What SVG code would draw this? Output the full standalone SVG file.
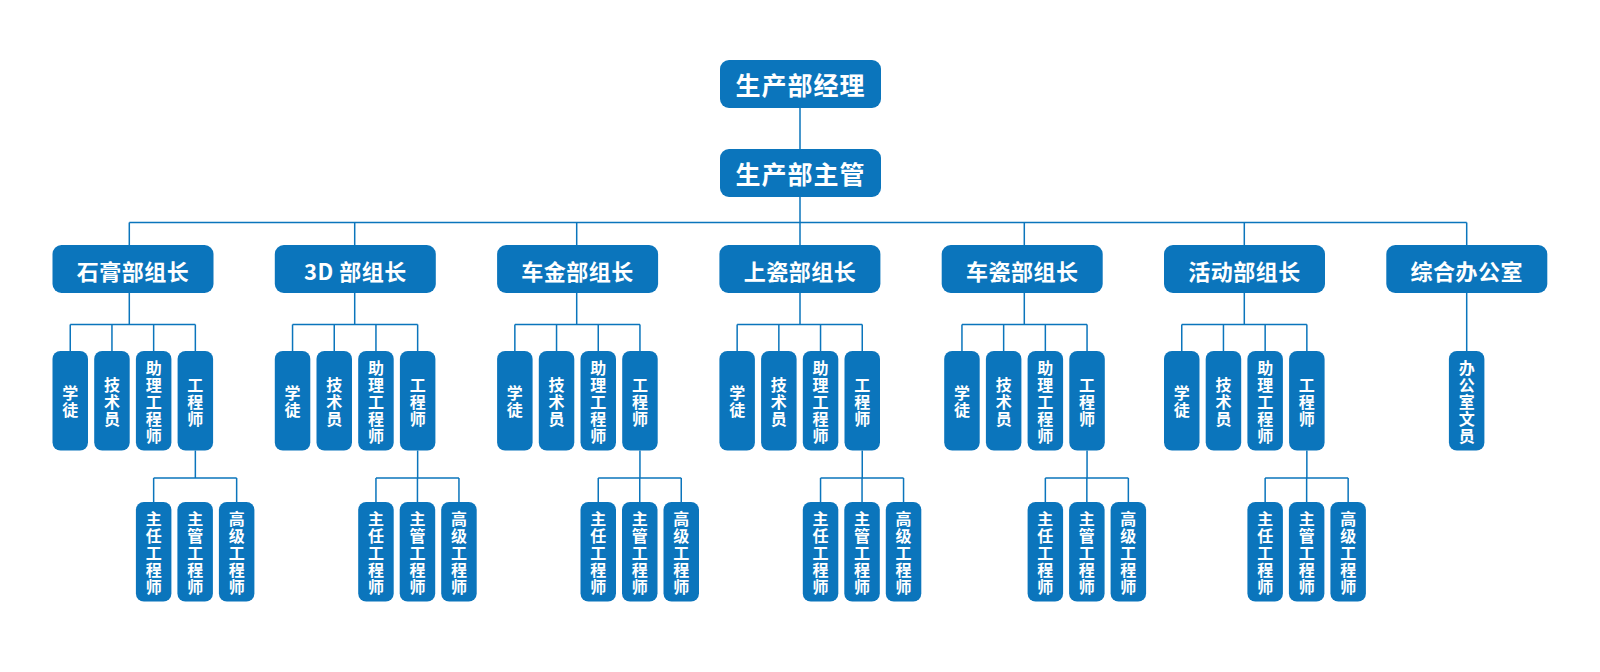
<svg xmlns="http://www.w3.org/2000/svg" width="1600" height="672" viewBox="0 0 1600 672">
<style>
.bx{fill:#0b75bc}
.ln{fill:none;stroke:#0b75bc;stroke-width:1.5}
.t1{font-family:"Noto Sans CJK SC","Liberation Sans",sans-serif;font-weight:bold;font-size:25px;letter-spacing:1px;fill:#fff;text-anchor:middle;dominant-baseline:central}
.t2{font-family:"Noto Sans CJK SC","Liberation Sans",sans-serif;font-weight:bold;font-size:22px;letter-spacing:0.5px;fill:#fff;text-anchor:middle;dominant-baseline:central}
.t3{font-family:"Noto Sans CJK SC","Liberation Sans",sans-serif;font-weight:bold;font-size:16px;fill:#fff;text-anchor:middle;dominant-baseline:central}
</style>
<rect width="1600" height="672" fill="#fff"/>

<g id="connectors">
  <path class="ln" d="M800,108V149M800,197V222.5M129.3,222.5H1466.7"/>
  <path class="ln" d="M129.3,222.5V245M129.3,293V324.5M70.25,324.5H195.35M70.25,324.5V351M111.95,324.5V351M153.65,324.5V351M195.35,324.5V351M195.35,450.5V478M153.65,478H236.65M153.65,478V502M236.65,478V502"/>
  <g transform="translate(274.8,0)"><path class="ln" d="M79.9,222.5V245M79.9,293V324.5M17.75,324.5H142.85M17.75,324.5V351M59.45,324.5V351M101.15,324.5V351M142.85,324.5V351M142.85,450.5V478M101.15,478H184.15M101.15,478V502M142.65,478V502M184.15,478V502"/></g>
  <g transform="translate(497.1,0)"><path class="ln" d="M79.6,222.5V245M79.6,293V324.5M17.75,324.5H142.85M17.75,324.5V351M59.45,324.5V351M101.15,324.5V351M142.85,324.5V351M142.85,450.5V478M101.15,478H184.15M101.15,478V502M142.65,478V502M184.15,478V502"/></g>
  <g transform="translate(719.4,0)"><path class="ln" d="M80.6,222.5V245M80.6,293V324.5M17.75,324.5H142.85M17.75,324.5V351M59.45,324.5V351M101.15,324.5V351M142.85,324.5V351M142.85,450.5V478M101.15,478H184.15M101.15,478V502M142.65,478V502M184.15,478V502"/></g>
  <g transform="translate(941.7,0)"><path class="ln" d="M82.6,222.5V245M82.6,293V324.5M20.25,324.5H145.35M20.25,324.5V351M61.95,324.5V351M103.65,324.5V351M145.35,324.5V351M145.35,450.5V478M103.65,478H186.65M103.65,478V502M145.15,478V502M186.65,478V502"/></g>
  <g transform="translate(1164,0)"><path class="ln" d="M80.3,222.5V245M80.3,293V324.5M17.75,324.5H142.85M17.75,324.5V351M59.45,324.5V351M101.15,324.5V351M142.85,324.5V351M142.85,450.5V478M101.15,478H184.15M101.15,478V502M142.65,478V502M184.15,478V502"/></g>
  <path class="ln" d="M1466.7,222.5V245M1466.7,293V351"/>
</g>

<g id="n-manager"><rect class="bx" x="720" y="60" width="161" height="48" rx="9"/><text class="t1" x="800.5" y="84">生产部经理</text></g>
<g id="n-supervisor"><rect class="bx" x="720" y="149" width="161" height="48" rx="9"/><text class="t1" x="800.5" y="173">生产部主管</text></g>

<!-- Group 0 -->
<g transform="translate(52.5,0)">
  <g id="g0-lead"><rect class="bx" x="0" y="245" width="161" height="48" rx="9"/><text class="t2" x="80.5" y="269.5">石膏部组长</text></g>
  <g id="g0-s1"><rect class="bx" x="0" y="351" width="35.5" height="99.5" rx="8"/><text class="t3"><tspan x="17.75" y="392.25">学</tspan><tspan x="17.75" y="409.25">徒</tspan></text></g>
  <g id="g0-s2"><rect class="bx" x="41.7" y="351" width="35.5" height="99.5" rx="8"/><text class="t3"><tspan x="59.45" y="383.75">技</tspan><tspan x="59.45" y="400.75">术</tspan><tspan x="59.45" y="417.75">员</tspan></text></g>
  <g id="g0-s3"><rect class="bx" x="83.4" y="351" width="35.5" height="99.5" rx="8"/><text class="t3"><tspan x="101.15" y="366.75">助</tspan><tspan x="101.15" y="383.75">理</tspan><tspan x="101.15" y="400.75">工</tspan><tspan x="101.15" y="417.75">程</tspan><tspan x="101.15" y="434.75">师</tspan></text></g>
  <g id="g0-s4"><rect class="bx" x="125.1" y="351" width="35.5" height="99.5" rx="8"/><text class="t3"><tspan x="142.85" y="383.75">工</tspan><tspan x="142.85" y="400.75">程</tspan><tspan x="142.85" y="417.75">师</tspan></text></g>
  <g id="g0-l1"><rect class="bx" x="83.4" y="502" width="35.5" height="99.5" rx="8"/><text class="t3"><tspan x="101.15" y="517.75">主</tspan><tspan x="101.15" y="534.75">任</tspan><tspan x="101.15" y="551.75">工</tspan><tspan x="101.15" y="568.75">程</tspan><tspan x="101.15" y="585.75">师</tspan></text></g>
  <g id="g0-l2"><rect class="bx" x="124.9" y="502" width="35.5" height="99.5" rx="8"/><text class="t3"><tspan x="142.65" y="517.75">主</tspan><tspan x="142.65" y="534.75">管</tspan><tspan x="142.65" y="551.75">工</tspan><tspan x="142.65" y="568.75">程</tspan><tspan x="142.65" y="585.75">师</tspan></text></g>
  <g id="g0-l3"><rect class="bx" x="166.4" y="502" width="35.5" height="99.5" rx="8"/><text class="t3"><tspan x="184.15" y="517.75">高</tspan><tspan x="184.15" y="534.75">级</tspan><tspan x="184.15" y="551.75">工</tspan><tspan x="184.15" y="568.75">程</tspan><tspan x="184.15" y="585.75">师</tspan></text></g>
</g>

<!-- Group 1 -->
<g transform="translate(274.8,0)">
  <g id="g1-lead"><rect class="bx" x="0" y="245" width="161" height="48" rx="9"/><text class="t2" x="80.5" y="269.5">3D 部组长</text></g>
  <g id="g1-s1"><rect class="bx" x="0" y="351" width="35.5" height="99.5" rx="8"/><text class="t3"><tspan x="17.75" y="392.25">学</tspan><tspan x="17.75" y="409.25">徒</tspan></text></g>
  <g id="g1-s2"><rect class="bx" x="41.7" y="351" width="35.5" height="99.5" rx="8"/><text class="t3"><tspan x="59.45" y="383.75">技</tspan><tspan x="59.45" y="400.75">术</tspan><tspan x="59.45" y="417.75">员</tspan></text></g>
  <g id="g1-s3"><rect class="bx" x="83.4" y="351" width="35.5" height="99.5" rx="8"/><text class="t3"><tspan x="101.15" y="366.75">助</tspan><tspan x="101.15" y="383.75">理</tspan><tspan x="101.15" y="400.75">工</tspan><tspan x="101.15" y="417.75">程</tspan><tspan x="101.15" y="434.75">师</tspan></text></g>
  <g id="g1-s4"><rect class="bx" x="125.1" y="351" width="35.5" height="99.5" rx="8"/><text class="t3"><tspan x="142.85" y="383.75">工</tspan><tspan x="142.85" y="400.75">程</tspan><tspan x="142.85" y="417.75">师</tspan></text></g>
  <g id="g1-l1"><rect class="bx" x="83.4" y="502" width="35.5" height="99.5" rx="8"/><text class="t3"><tspan x="101.15" y="517.75">主</tspan><tspan x="101.15" y="534.75">任</tspan><tspan x="101.15" y="551.75">工</tspan><tspan x="101.15" y="568.75">程</tspan><tspan x="101.15" y="585.75">师</tspan></text></g>
  <g id="g1-l2"><rect class="bx" x="124.9" y="502" width="35.5" height="99.5" rx="8"/><text class="t3"><tspan x="142.65" y="517.75">主</tspan><tspan x="142.65" y="534.75">管</tspan><tspan x="142.65" y="551.75">工</tspan><tspan x="142.65" y="568.75">程</tspan><tspan x="142.65" y="585.75">师</tspan></text></g>
  <g id="g1-l3"><rect class="bx" x="166.4" y="502" width="35.5" height="99.5" rx="8"/><text class="t3"><tspan x="184.15" y="517.75">高</tspan><tspan x="184.15" y="534.75">级</tspan><tspan x="184.15" y="551.75">工</tspan><tspan x="184.15" y="568.75">程</tspan><tspan x="184.15" y="585.75">师</tspan></text></g>
</g>

<!-- Group 2 -->
<g transform="translate(497.1,0)">
  <g id="g2-lead"><rect class="bx" x="0" y="245" width="161" height="48" rx="9"/><text class="t2" x="80.5" y="269.5">车金部组长</text></g>
  <g id="g2-s1"><rect class="bx" x="0" y="351" width="35.5" height="99.5" rx="8"/><text class="t3"><tspan x="17.75" y="392.25">学</tspan><tspan x="17.75" y="409.25">徒</tspan></text></g>
  <g id="g2-s2"><rect class="bx" x="41.7" y="351" width="35.5" height="99.5" rx="8"/><text class="t3"><tspan x="59.45" y="383.75">技</tspan><tspan x="59.45" y="400.75">术</tspan><tspan x="59.45" y="417.75">员</tspan></text></g>
  <g id="g2-s3"><rect class="bx" x="83.4" y="351" width="35.5" height="99.5" rx="8"/><text class="t3"><tspan x="101.15" y="366.75">助</tspan><tspan x="101.15" y="383.75">理</tspan><tspan x="101.15" y="400.75">工</tspan><tspan x="101.15" y="417.75">程</tspan><tspan x="101.15" y="434.75">师</tspan></text></g>
  <g id="g2-s4"><rect class="bx" x="125.1" y="351" width="35.5" height="99.5" rx="8"/><text class="t3"><tspan x="142.85" y="383.75">工</tspan><tspan x="142.85" y="400.75">程</tspan><tspan x="142.85" y="417.75">师</tspan></text></g>
  <g id="g2-l1"><rect class="bx" x="83.4" y="502" width="35.5" height="99.5" rx="8"/><text class="t3"><tspan x="101.15" y="517.75">主</tspan><tspan x="101.15" y="534.75">任</tspan><tspan x="101.15" y="551.75">工</tspan><tspan x="101.15" y="568.75">程</tspan><tspan x="101.15" y="585.75">师</tspan></text></g>
  <g id="g2-l2"><rect class="bx" x="124.9" y="502" width="35.5" height="99.5" rx="8"/><text class="t3"><tspan x="142.65" y="517.75">主</tspan><tspan x="142.65" y="534.75">管</tspan><tspan x="142.65" y="551.75">工</tspan><tspan x="142.65" y="568.75">程</tspan><tspan x="142.65" y="585.75">师</tspan></text></g>
  <g id="g2-l3"><rect class="bx" x="166.4" y="502" width="35.5" height="99.5" rx="8"/><text class="t3"><tspan x="184.15" y="517.75">高</tspan><tspan x="184.15" y="534.75">级</tspan><tspan x="184.15" y="551.75">工</tspan><tspan x="184.15" y="568.75">程</tspan><tspan x="184.15" y="585.75">师</tspan></text></g>
</g>

<!-- Group 3 -->
<g transform="translate(719.4,0)">
  <g id="g3-lead"><rect class="bx" x="0" y="245" width="161" height="48" rx="9"/><text class="t2" x="80.5" y="269.5">上瓷部组长</text></g>
  <g id="g3-s1"><rect class="bx" x="0" y="351" width="35.5" height="99.5" rx="8"/><text class="t3"><tspan x="17.75" y="392.25">学</tspan><tspan x="17.75" y="409.25">徒</tspan></text></g>
  <g id="g3-s2"><rect class="bx" x="41.7" y="351" width="35.5" height="99.5" rx="8"/><text class="t3"><tspan x="59.45" y="383.75">技</tspan><tspan x="59.45" y="400.75">术</tspan><tspan x="59.45" y="417.75">员</tspan></text></g>
  <g id="g3-s3"><rect class="bx" x="83.4" y="351" width="35.5" height="99.5" rx="8"/><text class="t3"><tspan x="101.15" y="366.75">助</tspan><tspan x="101.15" y="383.75">理</tspan><tspan x="101.15" y="400.75">工</tspan><tspan x="101.15" y="417.75">程</tspan><tspan x="101.15" y="434.75">师</tspan></text></g>
  <g id="g3-s4"><rect class="bx" x="125.1" y="351" width="35.5" height="99.5" rx="8"/><text class="t3"><tspan x="142.85" y="383.75">工</tspan><tspan x="142.85" y="400.75">程</tspan><tspan x="142.85" y="417.75">师</tspan></text></g>
  <g id="g3-l1"><rect class="bx" x="83.4" y="502" width="35.5" height="99.5" rx="8"/><text class="t3"><tspan x="101.15" y="517.75">主</tspan><tspan x="101.15" y="534.75">任</tspan><tspan x="101.15" y="551.75">工</tspan><tspan x="101.15" y="568.75">程</tspan><tspan x="101.15" y="585.75">师</tspan></text></g>
  <g id="g3-l2"><rect class="bx" x="124.9" y="502" width="35.5" height="99.5" rx="8"/><text class="t3"><tspan x="142.65" y="517.75">主</tspan><tspan x="142.65" y="534.75">管</tspan><tspan x="142.65" y="551.75">工</tspan><tspan x="142.65" y="568.75">程</tspan><tspan x="142.65" y="585.75">师</tspan></text></g>
  <g id="g3-l3"><rect class="bx" x="166.4" y="502" width="35.5" height="99.5" rx="8"/><text class="t3"><tspan x="184.15" y="517.75">高</tspan><tspan x="184.15" y="534.75">级</tspan><tspan x="184.15" y="551.75">工</tspan><tspan x="184.15" y="568.75">程</tspan><tspan x="184.15" y="585.75">师</tspan></text></g>
</g>

<!-- Group 4 -->
<g transform="translate(941.7,0)">
  <g id="g4-lead"><rect class="bx" x="0" y="245" width="161" height="48" rx="9"/><text class="t2" x="80.5" y="269.5">车瓷部组长</text></g>
  <g id="g4-s1"><rect class="bx" x="2.5" y="351" width="35.5" height="99.5" rx="8"/><text class="t3"><tspan x="20.25" y="392.25">学</tspan><tspan x="20.25" y="409.25">徒</tspan></text></g>
  <g id="g4-s2"><rect class="bx" x="44.2" y="351" width="35.5" height="99.5" rx="8"/><text class="t3"><tspan x="61.95" y="383.75">技</tspan><tspan x="61.95" y="400.75">术</tspan><tspan x="61.95" y="417.75">员</tspan></text></g>
  <g id="g4-s3"><rect class="bx" x="85.9" y="351" width="35.5" height="99.5" rx="8"/><text class="t3"><tspan x="103.65" y="366.75">助</tspan><tspan x="103.65" y="383.75">理</tspan><tspan x="103.65" y="400.75">工</tspan><tspan x="103.65" y="417.75">程</tspan><tspan x="103.65" y="434.75">师</tspan></text></g>
  <g id="g4-s4"><rect class="bx" x="127.6" y="351" width="35.5" height="99.5" rx="8"/><text class="t3"><tspan x="145.35" y="383.75">工</tspan><tspan x="145.35" y="400.75">程</tspan><tspan x="145.35" y="417.75">师</tspan></text></g>
  <g id="g4-l1"><rect class="bx" x="85.9" y="502" width="35.5" height="99.5" rx="8"/><text class="t3"><tspan x="103.65" y="517.75">主</tspan><tspan x="103.65" y="534.75">任</tspan><tspan x="103.65" y="551.75">工</tspan><tspan x="103.65" y="568.75">程</tspan><tspan x="103.65" y="585.75">师</tspan></text></g>
  <g id="g4-l2"><rect class="bx" x="127.4" y="502" width="35.5" height="99.5" rx="8"/><text class="t3"><tspan x="145.15" y="517.75">主</tspan><tspan x="145.15" y="534.75">管</tspan><tspan x="145.15" y="551.75">工</tspan><tspan x="145.15" y="568.75">程</tspan><tspan x="145.15" y="585.75">师</tspan></text></g>
  <g id="g4-l3"><rect class="bx" x="168.9" y="502" width="35.5" height="99.5" rx="8"/><text class="t3"><tspan x="186.65" y="517.75">高</tspan><tspan x="186.65" y="534.75">级</tspan><tspan x="186.65" y="551.75">工</tspan><tspan x="186.65" y="568.75">程</tspan><tspan x="186.65" y="585.75">师</tspan></text></g>
</g>

<!-- Group 5 -->
<g transform="translate(1164,0)">
  <g id="g5-lead"><rect class="bx" x="0" y="245" width="161" height="48" rx="9"/><text class="t2" x="80.5" y="269.5">活动部组长</text></g>
  <g id="g5-s1"><rect class="bx" x="0" y="351" width="35.5" height="99.5" rx="8"/><text class="t3"><tspan x="17.75" y="392.25">学</tspan><tspan x="17.75" y="409.25">徒</tspan></text></g>
  <g id="g5-s2"><rect class="bx" x="41.7" y="351" width="35.5" height="99.5" rx="8"/><text class="t3"><tspan x="59.45" y="383.75">技</tspan><tspan x="59.45" y="400.75">术</tspan><tspan x="59.45" y="417.75">员</tspan></text></g>
  <g id="g5-s3"><rect class="bx" x="83.4" y="351" width="35.5" height="99.5" rx="8"/><text class="t3"><tspan x="101.15" y="366.75">助</tspan><tspan x="101.15" y="383.75">理</tspan><tspan x="101.15" y="400.75">工</tspan><tspan x="101.15" y="417.75">程</tspan><tspan x="101.15" y="434.75">师</tspan></text></g>
  <g id="g5-s4"><rect class="bx" x="125.1" y="351" width="35.5" height="99.5" rx="8"/><text class="t3"><tspan x="142.85" y="383.75">工</tspan><tspan x="142.85" y="400.75">程</tspan><tspan x="142.85" y="417.75">师</tspan></text></g>
  <g id="g5-l1"><rect class="bx" x="83.4" y="502" width="35.5" height="99.5" rx="8"/><text class="t3"><tspan x="101.15" y="517.75">主</tspan><tspan x="101.15" y="534.75">任</tspan><tspan x="101.15" y="551.75">工</tspan><tspan x="101.15" y="568.75">程</tspan><tspan x="101.15" y="585.75">师</tspan></text></g>
  <g id="g5-l2"><rect class="bx" x="124.9" y="502" width="35.5" height="99.5" rx="8"/><text class="t3"><tspan x="142.65" y="517.75">主</tspan><tspan x="142.65" y="534.75">管</tspan><tspan x="142.65" y="551.75">工</tspan><tspan x="142.65" y="568.75">程</tspan><tspan x="142.65" y="585.75">师</tspan></text></g>
  <g id="g5-l3"><rect class="bx" x="166.4" y="502" width="35.5" height="99.5" rx="8"/><text class="t3"><tspan x="184.15" y="517.75">高</tspan><tspan x="184.15" y="534.75">级</tspan><tspan x="184.15" y="551.75">工</tspan><tspan x="184.15" y="568.75">程</tspan><tspan x="184.15" y="585.75">师</tspan></text></g>
</g>

<!-- Office -->
<g id="office-lead"><rect class="bx" x="1386.3" y="245" width="161" height="48" rx="9"/><text class="t2" x="1466.8" y="269.5">综合办公室</text></g>
<g id="office-clerk"><rect class="bx" x="1448.9" y="351" width="35.5" height="99.5" rx="8"/><text class="t3"><tspan x="1466.65" y="366.75">办</tspan><tspan x="1466.65" y="383.75">公</tspan><tspan x="1466.65" y="400.75">室</tspan><tspan x="1466.65" y="417.75">文</tspan><tspan x="1466.65" y="434.75">员</tspan></text></g>
</svg>
